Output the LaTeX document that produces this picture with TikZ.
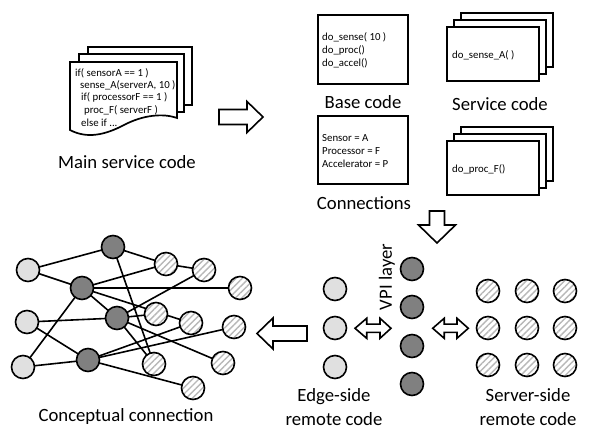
\documentclass[tikz,border=0pt]{standalone}
\usepackage{fontspec}
\setmainfont{Carlito}
\usetikzlibrary{patterns.meta,backgrounds}
\tikzset{
  lbl/.style={font=\fontsize{18.7}{24}\selectfont, inner sep=0pt, align=center},
  code/.style={font=\fontsize{10.8}{12}\selectfont, inner sep=0pt, anchor=west},
  box/.style={draw, line width=1.7pt, fill=white},
  nd/.style={circle, draw, line width=1.6pt, minimum size=23pt, inner sep=0pt},
  lightnd/.style={nd, fill=black!12},
  darknd/.style={nd, fill=black!50},
  hatchnd/.style={nd, preaction={fill=white}, pattern={Lines[angle=45,distance=4.5pt,line width=1.4pt]}, pattern color=black!28},
  edge/.style={line width=1.6pt},
  barrow/.style={draw, line width=1.6pt, fill=white, line join=miter},
}
\begin{document}
\begin{tikzpicture}[x=1pt,y=-1pt]
\useasboundingbox (0,0) rectangle (598,438);

% ---- main service code (multi-document) ----
\draw[box] (88,47) rectangle (192,105);
\draw[box] (79,54) rectangle (184,112);
\draw[box] (70,62) -- (177,62) -- (177,118) .. controls (163,113) and (143,115) .. (124,125) .. controls (105,135) and (87,139) .. (70,130) -- cycle;
\node[code] (m1) at (75,73) {if( sensorA == 1 )};
\node[code] (m2) at (80,85) {sense\_A(serverA, 10 )};
\node[code] (m3) at (81,97.5) {if( processorF == 1 )};
\node[code] (m4) at (84,110) {proc\_F( serverF )};
\node[code] (m5) at (81,122.5) {else if ...};
\node[lbl] (mainlbl) at (127,162) {Main service code};

% arrow main -> base
\draw[barrow] (219,109.5) -- (247,109.5) -- (247,101.5) -- (263,117) -- (247,132.5) -- (247,124.5) -- (219,124.5) -- cycle;

% ---- base code ----
\draw[box] (318,15) rectangle (408,84);
\node[code] (b1) at (322,37) {do\_sense( 10 )};
\node[code] (b2) at (322,50) {do\_proc()};
\node[code] (b3) at (322,63) {do\_accel()};
\node[lbl] (baselbl) at (363,102) {Base code};

% ---- connections ----
\draw[box] (318,116) rectangle (408,184);
\node[code] (c1) at (322,138) {Sensor = A};
\node[code] (c2) at (322,151) {Processor = F};
\node[code] (c3) at (322,164) {Accelerator = P};
\node[lbl] (connlbl) at (364,203) {Connections};

% ---- service code stacks ----
\draw[box] (461,13) rectangle (553,67);
\draw[box] (454,20) rectangle (546,74);
\draw[box] (447,27) rectangle (539,81);
\node[code] (s1) at (452,55) {do\_sense\_A( )};
\node[lbl] (servlbl) at (500,104) {Service code};

\draw[box] (461,127) rectangle (553,181);
\draw[box] (454,134) rectangle (546,188);
\draw[box] (447,141) rectangle (539,195);
\node[code] (s2) at (452,169) {do\_proc\_F()};

% down arrow
\draw[barrow] (429.5,211) -- (444.5,211) -- (444.5,225) -- (455.5,225) -- (437,243) -- (418.5,225) -- (429.5,225) -- cycle;

% ---- edge / VPI / server ----
\foreach \y [count=\i] in {289,328,367} \node[lightnd] (e\i) at (335,\y) {};
\foreach \y [count=\i] in {269,307,346,384} \node[darknd] (v\i) at (412,\y) {};
\foreach \x [count=\i] in {488,527,565}
  \foreach \y [count=\j] in {291,328,365} \node[hatchnd] (s\i\j) at (\x,\y) {};
\node[lbl, rotate=90] (vpilbl) at (387,277) {VPI layer};
\node[lbl] (edgelbl) at (334,407) {Edge-side\\remote code};
\node[lbl] (serverlbl) at (528,407) {Server-side\\remote code};

% double arrows
\draw[barrow] (355,328.3) -- (366.7,318.3) -- (366.7,324.2) -- (380,324.2) -- (380,318.3) -- (391,328.3) -- (380,338.3) -- (380,332.4) -- (366.7,332.4) -- (366.7,338.3) -- cycle;
\draw[barrow] (432.7,328.3) -- (444.2,318.3) -- (444.2,324.2) -- (457,324.2) -- (457,318.3) -- (468.3,328.3) -- (457,338.3) -- (457,332.4) -- (444.2,332.4) -- (444.2,338.3) -- cycle;

% left arrow
\draw[barrow] (257,333.5) -- (273,318) -- (273,326) -- (307,326) -- (307,341) -- (273,341) -- (273,349) -- cycle;

% ---- conceptual connection graph ----
\node[lightnd] (L1) at (28,270) {};
\node[lightnd] (L2) at (27,322) {};
\node[lightnd] (L3) at (23,367) {};
\node[darknd] (D1) at (113,247) {};
\node[darknd] (D2) at (82,288) {};
\node[darknd] (D3) at (117,318) {};
\node[darknd] (D4) at (88,360) {};
\node[hatchnd] (H1) at (166,264) {};
\node[hatchnd] (H2) at (204,270) {};
\node[hatchnd] (H3) at (240,288) {};
\node[hatchnd] (H4) at (156,314) {};
\node[hatchnd] (H5) at (191,323) {};
\node[hatchnd] (H6) at (234,327) {};
\node[hatchnd] (H7) at (154,364) {};
\node[hatchnd] (H8) at (223,363) {};
\node[hatchnd] (H9) at (193,388) {};
\begin{scope}[on background layer]
\draw[edge] (L1.center) -- (D1.center);
\draw[edge] (L1.center) -- (D2.center);
\draw[edge] (D1.center) -- (H1.center);
\draw[edge] (D1.center) -- (H7.center);
\draw[edge] (H1.center) -- (H2.center);
\draw[edge] (D2.center) -- (H1.center);
\draw[edge] (D2.center) -- (H3.center);
\draw[edge] (D2.center) -- (D3.center);
\draw[edge] (D2.center) -- (H5.center);
\draw[edge] (D2.center) -- (L3.center);
\draw[edge] (L2.center) -- (D3.center);
\draw[edge] (L2.center) -- (D4.center);
\draw[edge] (L3.center) -- (D4.center);
\draw[edge] (D3.center) -- (H2.center);
\draw[edge] (D3.center) -- (H4.center);
\draw[edge] (D3.center) -- (H7.center);
\draw[edge] (D3.center) -- (H8.center);
\draw[edge] (D4.center) -- (H5.center);
\draw[edge] (D4.center) -- (H6.center);
\draw[edge] (D4.center) -- (H9.center);
\end{scope}
\node[lbl] (conclbl) at (126,417) {Conceptual connection};
\end{tikzpicture}
\end{document}
